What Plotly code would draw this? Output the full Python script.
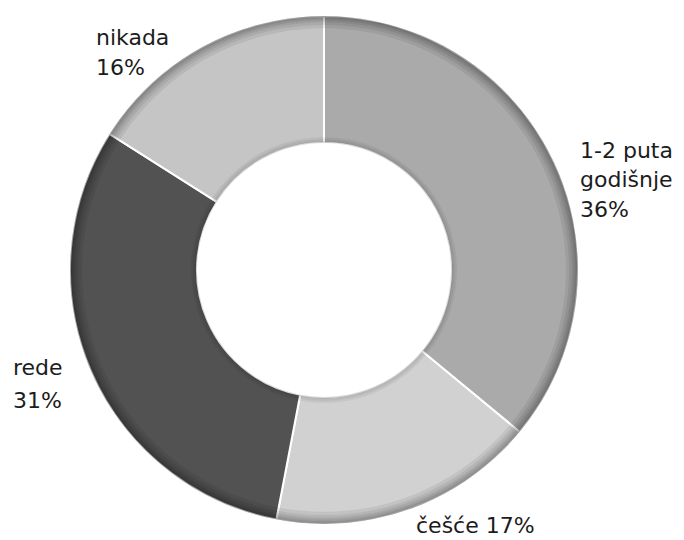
import plotly.graph_objects as go

# Answer categories and their shares (percent)
categories = ["1-2 puta godišnje", "češće", "rede", "nikada"]
shares = [36, 17, 31, 16]
slice_colors = ["#aaaaaa", "#d1d1d1", "#525252", "#c5c5c5"]

# Label text, split into lines as printed beside the ring
label_lines = [
    ["1-2 puta", "godišnje", "36%"],
    ["češće 17%"],
    ["rede", "31%"],
    ["nikada", "16%"],
]
# left edge and first-line baseline (px) for each label block, line step
label_pos = [(578, 158, 30), (414, 533, 30), (11, 375, 33), (94, 45, 30)]

W, H = 684, 540
cx, cy, R = 324, 270, 254
r_in = 127

fig = go.Figure()


def domain_for(radius):
    return dict(x=[(cx - radius) / W, (cx + radius) / W],
                y=[(H - cy - radius) / H, (H - cy + radius) / H])


fig.add_trace(go.Pie(
    labels=categories,
    values=shares,
    hole=r_in / R,
    sort=False,
    direction="clockwise",
    rotation=0,
    marker=dict(colors=slice_colors, line=dict(color="#ffffff", width=2)),
    textinfo="none",
    hoverinfo="label+percent",
    showlegend=False,
    domain=domain_for(R),
))

# soft darkening along the outer rim, built from thin translucent rings
for h in [0.996, 0.99, 0.983, 0.975, 0.965, 0.952]:
    fig.add_trace(go.Pie(
        values=[1], hole=h, sort=False,
        marker=dict(colors=["rgba(0,0,0,0.07)"], line=dict(width=0)),
        textinfo="none", hoverinfo="skip", showlegend=False, domain=domain_for(R),
    ))

# faint shadow just outside the hole
for w in [2, 4, 6]:
    fig.add_trace(go.Pie(
        values=[1], hole=r_in / (r_in + w), sort=False,
        marker=dict(colors=["rgba(0,0,0,0.05)"], line=dict(width=0)),
        textinfo="none", hoverinfo="skip", showlegend=False, domain=domain_for(r_in + w),
    ))

annotations = []
for lines, (x0, b0, step) in zip(label_lines, label_pos):
    for i, line in enumerate(lines):
        yb = b0 + i * step
        annotations.append(dict(
            x=x0 / W, y=1 - (yb - 8) / H, xref="paper", yref="paper",
            xanchor="left", yanchor="middle", showarrow=False,
            text=line, font=dict(family="DejaVu Sans", size=22, color="#1c1c1c"),
        ))

fig.update_layout(
    width=W, height=H,
    margin=dict(l=0, r=0, t=0, b=0),
    paper_bgcolor="white", plot_bgcolor="white",
    annotations=annotations,
)

fig.write_html("out.html")
